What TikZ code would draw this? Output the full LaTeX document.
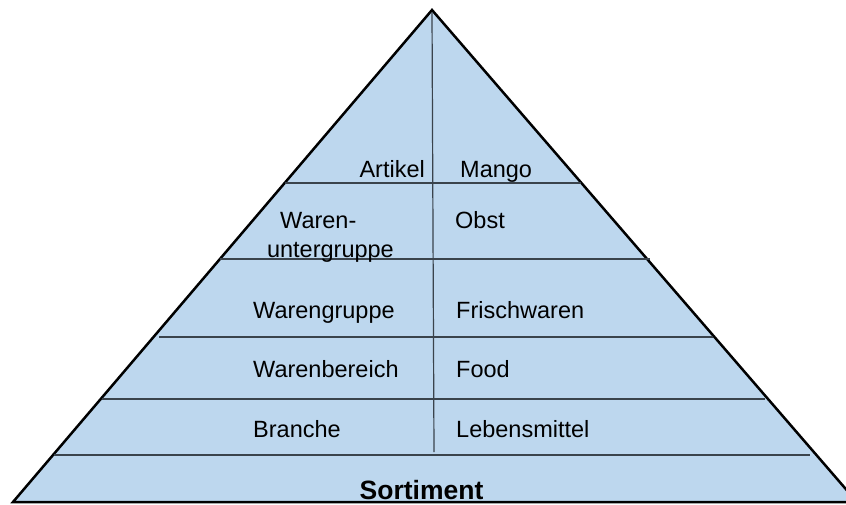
\documentclass[tikz,border=0pt]{standalone}
\usepackage{fontspec}
\setmainfont{Liberation Sans}
\definecolor{pyrfill}{HTML}{BDD7EE}
\definecolor{divline}{HTML}{3A434C}

\begin{document}
\begin{tikzpicture}[x=1pt,y=-1pt,
  lbl/.style={inner sep=0pt,font=\fontsize{23.5}{28}\selectfont},
  divider/.style={divline,line width=1.5pt}]
  \useasboundingbox (0,0) rectangle (846,504);
  \clip (0,0) rectangle (846,504);
  \coordinate (apex) at (432,10);
  \coordinate (bl) at (13,502);
  \coordinate (br) at (857,502);
  \draw[fill=pyrfill,line width=2.5pt,line join=miter] (apex) -- (br) -- (bl) -- cycle;
  \draw[divider] (285,183) -- (581,183);
  \draw[divider] (220,259) -- (650,259);
  \draw[divider] (159,337) -- (713,337);
  \draw[divider] (102,399) -- (765,399);
  \draw[divider] (54,455) -- (810,455);
  \draw[divider,line width=1.2pt] (432,12) -- (434,452);
  \node[lbl,anchor=base east] (artikel) at (425,177) {Artikel};
  \node[lbl,anchor=base west] (mango) at (460,177) {Mango};
  \node[lbl,anchor=base west] (waren) at (280,228) {Waren-};
  \node[lbl,anchor=base east] (untergr) at (394,257) {untergruppe};
  \node[lbl,anchor=base west] (obst) at (455,228) {Obst};
  \node[lbl,anchor=base west] (wgruppe) at (253,318) {Warengruppe};
  \node[lbl,anchor=base west] (frisch) at (456,318) {Frischwaren};
  \node[lbl,anchor=base west] (wbereich) at (253,377) {Warenbereich};
  \node[lbl,anchor=base west] (food) at (456,377) {Food};
  \node[lbl,anchor=base west] (branche) at (253,437) {Branche};
  \node[lbl,anchor=base west] (lebensm) at (456,437) {Lebensmittel};
  \node[lbl,anchor=base,font=\fontsize{26.5}{30}\selectfont\bfseries] (sortiment) at (421.5,499) {Sortiment};
\end{tikzpicture}
\end{document}
